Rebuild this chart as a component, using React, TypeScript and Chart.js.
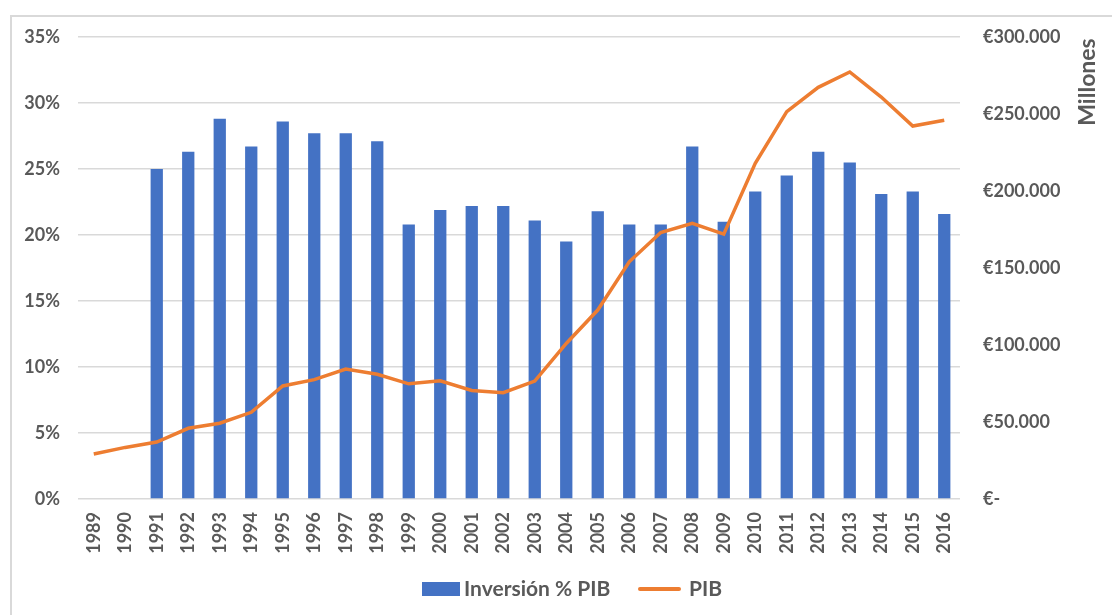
import React, { useEffect, useRef } from "react";
import { Chart, registerables } from "chart.js";

Chart.register(...registerables);

const years: string[] = [
  "1989", "1990", "1991", "1992", "1993", "1994", "1995", "1996", "1997", "1998",
  "1999", "2000", "2001", "2002", "2003", "2004", "2005", "2006", "2007", "2008",
  "2009", "2010", "2011", "2012", "2013", "2014", "2015", "2016",
];

// Inversión como % del PIB
const inversionPct: (number | null)[] = [
  null, null, 25.0, 26.3, 28.8, 26.7, 28.6, 27.7, 27.7, 27.1,
  20.8, 21.9, 22.2, 22.2, 21.1, 19.5, 21.8, 20.8, 20.8, 26.7,
  21.0, 23.3, 24.5, 26.3, 25.5, 23.1, 23.3, 21.6,
];

// PIB en millones de euros
const pib: number[] = [
  29200, 33500, 37000, 45900, 49200, 56300, 73400, 77500, 84400, 81000,
  74800, 76800, 70500, 69000, 76600, 101000, 122700, 154000, 173000, 179000,
  172000, 218000, 251500, 267300, 277300, 261000, 242200, 246000,
];

const leftTicksMax = 35;
const rightTicksMax = 300000;

const TEXT = "#595959";
const GRID = "#d9d9d9";
const BLUE = "#4472C4";
const ORANGE = "#ED7D31";
const FONT = "Lato, 'Open Sans', sans-serif";

const fmtEuro = (v: number) =>
  v === 0 ? "€-" : "€" + String(Math.round(v)).replace(/\B(?=(\d{3})+(?!\d))/g, ".");

const decorPlugin = {
  id: "decor",
  beforeDraw(chart: any) {
    const { ctx, width, height } = chart;
    ctx.save();
    ctx.fillStyle = "#ffffff";
    ctx.fillRect(0, 0, width, height);
    ctx.strokeStyle = GRID;
    ctx.lineWidth = 2;
    ctx.beginPath();
    ctx.moveTo(11, height);
    ctx.lineTo(11, 16);
    ctx.lineTo(width, 16);
    ctx.stroke();
    ctx.restore();
  },
  afterDraw(chart: any) {
    const { ctx } = chart;
    ctx.save();
    // Right axis title
    ctx.fillStyle = TEXT;
    ctx.font = `bold 23px ${FONT}`;
    ctx.textAlign = "center";
    ctx.textBaseline = "middle";
    ctx.translate(1088, 82);
    ctx.rotate(-Math.PI / 2);
    ctx.fillText("Millones", 0, 0);
    ctx.restore();

    // Legend
    ctx.save();
    ctx.font = `bold 21px ${FONT}`;
    ctx.textBaseline = "middle";
    ctx.textAlign = "left";
    const y = 589;
    ctx.fillStyle = BLUE;
    ctx.fillRect(422, y - 7, 38, 14);
    ctx.fillStyle = TEXT;
    ctx.fillText("Inversión % PIB", 464, y);
    ctx.strokeStyle = ORANGE;
    ctx.lineWidth = 4;
    ctx.lineCap = "round";
    ctx.beginPath();
    ctx.moveTo(640, y);
    ctx.lineTo(679, y);
    ctx.stroke();
    ctx.fillText("PIB", 689, y);
    ctx.restore();
  },
};

export default function App() {
  const ref = useRef<HTMLCanvasElement | null>(null);

  useEffect(() => {
    if (!ref.current) return;
    const chart = new Chart(ref.current, {
      type: "bar",
      data: {
        labels: years,
        datasets: [
          {
            type: "bar",
            label: "Inversión % PIB",
            data: inversionPct,
            backgroundColor: BLUE,
            borderWidth: 0,
            barPercentage: 0.39,
            categoryPercentage: 1,
            yAxisID: "y",
            order: 1,
          },
          {
            type: "line",
            label: "PIB",
            data: pib,
            borderColor: ORANGE,
            backgroundColor: ORANGE,
            borderWidth: 3.5,
            pointRadius: 0,
            tension: 0,
            yAxisID: "y2",
            order: 0,
          } as any,
        ],
      },
      options: {
        responsive: false,
        animation: false,
        layout: { padding: { left: 0, right: 0, top: 37, bottom: 0 } },
        plugins: {
          legend: { display: false },
          tooltip: { enabled: false },
        },
        scales: {
          x: {
            offset: true,
            grid: { display: false, drawTicks: false },
            border: { display: false },
            ticks: {
              color: TEXT,
              font: { family: FONT, size: 18, weight: "bold" },
              maxRotation: 90,
              minRotation: 90,
              autoSkip: false,
              padding: 13,
            },
            afterFit(scale: any) {
              scale.height = 116;
            },
          },
          y: {
            position: "left",
            min: 0,
            max: leftTicksMax,
            grid: { color: GRID, lineWidth: 1.5, drawTicks: false },
            border: { display: false },
            ticks: {
              stepSize: 5,
              color: TEXT,
              font: { family: FONT, size: 18, weight: "bold" },
              padding: 18,
              callback: (v: any) => `${Math.round(Number(v))}%`,
            },
            afterFit(scale: any) {
              scale.width = 78;
            },
          },
          y2: {
            position: "right",
            min: 0,
            max: rightTicksMax,
            grid: { display: false, drawTicks: false },
            border: { display: false },
            ticks: {
              stepSize: 50000,
              color: TEXT,
              font: { family: FONT, size: 18, weight: "bold" },
              padding: 23,
              callback: (v: any) => fmtEuro(Number(v)),
            },
            afterFit(scale: any) {
              scale.width = 152;
            },
          },
        },
      },
      plugins: [decorPlugin],
    });
    return () => chart.destroy();
  }, []);

  return (
    <div style={{ position: "fixed", left: 0, top: 0, width: 1112, height: 615 }}>
      <canvas ref={ref} width={1112} height={615} />
    </div>
  );
}
